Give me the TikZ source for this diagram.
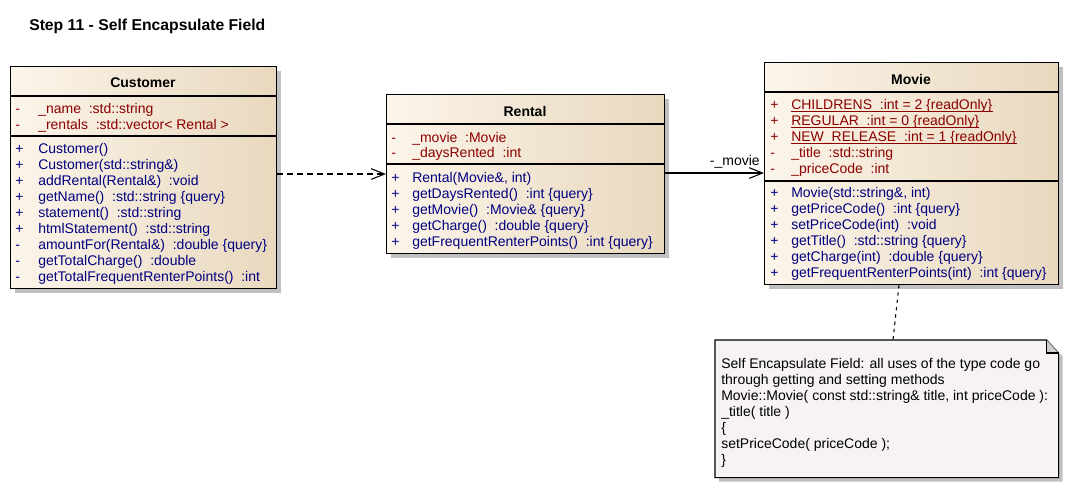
\documentclass[tikz,border=0pt]{standalone}
\usepackage{fontspec}
\setmainfont{Liberation Sans}
\usetikzlibrary{arrows.meta,calc,shadows}
\definecolor{attrc}{RGB}{140,0,0}
\definecolor{methc}{RGB}{0,0,128}
\definecolor{boxl}{RGB}{252,245,234}
\definecolor{boxr}{RGB}{232,216,190}
\definecolor{notefill}{RGB}{246,242,246}
\definecolor{shadowc}{RGB}{192,192,192}
\newcommand\umlfont{\fontsize{10.5}{12}\selectfont}
\tikzset{
  x=0.75pt, y=-0.75pt,
  cls/.style={draw=black, line width=0.8pt, left color=boxl, right color=boxr,
    inner sep=0pt, anchor=north west,
    drop shadow={shadow xshift=3pt, shadow yshift=-3pt, fill=shadowc, opacity=1}},
  sep/.style={line width=0.8pt},
  hdr/.style={anchor=base, inner sep=0pt, font=\fontsize{10.5}{12}\selectfont\bfseries},
  vis/.style={anchor=base west, inner sep=0pt, font=\umlfont},
  attr/.style={anchor=base west, inner sep=0pt, font=\umlfont, text=attrc},
  meth/.style={anchor=base west, inner sep=0pt, font=\umlfont, text=methc},
  notetxt/.style={anchor=base west, inner sep=0pt, font=\umlfont},
  uline/.style={draw=attrc, line width=0.6pt},
  opentip/.style={-{Straight Barb[length=10pt,width=8pt,line width=0.8pt]}},
  dep/.style={opentip, dashed, dash pattern=on 4.5pt off 3pt, line width=0.8pt},
  assoc/.style={opentip, line width=0.8pt},
  notelink/.style={dash pattern=on 2.5pt off 3pt, line width=0.8pt},
}
\begin{document}
\begin{tikzpicture}
\useasboundingbox[fill=white] (0,0) rectangle (1068,497);

% title
\node[anchor=base west, inner sep=0pt, font=\fontsize{11.8}{14}\selectfont\bfseries] (title) at (29,30) {Step 11 - Self Encapsulate Field};

% ---------------- Customer ----------------
\node[cls, minimum width=199.5pt, minimum height=166.5pt] (customer) at (10,66) {};
\draw[sep] (10,96) -- (276,96);
\draw[sep] (10,136) -- (276,136);
\node[hdr] (customerH) at (143,87) {Customer};
\node[vis,text=attrc] (cv1) at (15,113) {-};
\node[attr] (ca1) at (38,113) {\_name \ :std::string};
\node[vis,text=attrc] (cv2) at (15,129) {-};
\node[attr] (ca2) at (38,129) {\_rentals \ :std::vector< Rental >};
\node[vis,text=methc] (cw1) at (15,153) {+};
\node[meth] (cm1) at (38,153) {Customer()};
\node[vis,text=methc] (cw2) at (15,169) {+};
\node[meth] (cm2) at (38,169) {Customer(std::string\&)};
\node[vis,text=methc] (cw3) at (15,185) {+};
\node[meth] (cm3) at (38,185) {addRental(Rental\&) \ :void};
\node[vis,text=methc] (cw4) at (15,201) {+};
\node[meth] (cm4) at (38,201) {getName() \ :std::string \{query\}};
\node[vis,text=methc] (cw5) at (15,217) {+};
\node[meth] (cm5) at (38,217) {statement() \ :std::string};
\node[vis,text=methc] (cw6) at (15,233) {+};
\node[meth] (cm6) at (38,233) {htmlStatement() \ :std::string};
\node[vis,text=methc] (cw7) at (15,249) {-};
\node[meth] (cm7) at (38,249) {amountFor(Rental\&) \ :double \{query\}};
\node[vis,text=methc] (cw8) at (15,265) {-};
\node[meth] (cm8) at (38,265) {getTotalCharge() \ :double};
\node[vis,text=methc] (cw9) at (15,281) {-};
\node[meth] (cm9) at (38,281) {getTotalFrequentRenterPoints() \ :int};

% ---------------- Rental ----------------
\node[cls, minimum width=208.5pt, minimum height=119.25pt] (rental) at (386,94) {};
\draw[sep] (386,124) -- (664,124);
\draw[sep] (386,164) -- (664,164);
\node[hdr] (rentalH) at (525,116) {Rental};
\node[vis,text=attrc] (rv1) at (391,142) {-};
\node[attr] (ra1) at (412,142) {\_movie \ :Movie};
\node[vis,text=attrc] (rv2) at (391,157) {-};
\node[attr] (ra2) at (412,157) {\_daysRented \ :int};
\node[vis,text=methc] (rw1) at (391,182) {+};
\node[meth] (rm1) at (412,182) {Rental(Movie\&, int)};
\node[vis,text=methc] (rw2) at (391,198) {+};
\node[meth] (rm2) at (412,198) {getDaysRented() \ :int \{query\}};
\node[vis,text=methc] (rw3) at (391,214) {+};
\node[meth] (rm3) at (412,214) {getMovie() \ :Movie\& \{query\}};
\node[vis,text=methc] (rw4) at (391,230) {+};
\node[meth] (rm4) at (412,230) {getCharge() \ :double \{query\}};
\node[vis,text=methc] (rw5) at (391,246) {+};
\node[meth] (rm5) at (412,246) {getFrequentRenterPoints() \ :int \{query\}};

% ---------------- Movie ----------------
\node[cls, minimum width=220.5pt, minimum height=166.5pt] (movie) at (764,62) {};
\draw[sep] (764,92) -- (1058,92);
\draw[sep] (764,181) -- (1058,181);
\node[hdr] (movieH) at (911,84) {Movie};
\node[vis,text=attrc] (mv1) at (770,109) {+};
\node[attr] (ma1) at (791,109) {CHILDRENS \ :int = 2 \{readOnly\}};
\node[vis,text=attrc] (mv2) at (770,125) {+};
\node[attr] (ma2) at (791,125) {REGULAR \ :int = 0 \{readOnly\}};
\node[vis,text=attrc] (mv3) at (770,141) {+};
\node[attr] (ma3) at (791,141) {NEW\_RELEASE \ :int = 1 \{readOnly\}};
\draw[uline] ($(ma1.base west)+(0,2)$) -- ($(ma1.base east)+(0,2)$);
\draw[uline] ($(ma2.base west)+(0,2)$) -- ($(ma2.base east)+(0,2)$);
\draw[uline] ($(ma3.base west)+(0,2)$) -- ($(ma3.base east)+(0,2)$);
\node[vis,text=attrc] (mv4) at (770,157) {-};
\node[attr] (ma4) at (791,157) {\_title \ :std::string};
\node[vis,text=attrc] (mv5) at (770,173) {-};
\node[attr] (ma5) at (791,173) {\_priceCode \ :int};
\node[vis,text=methc] (mw1) at (770,197) {+};
\node[meth] (mm1) at (791,197) {Movie(std::string\&, int)};
\node[vis,text=methc] (mw2) at (770,213) {+};
\node[meth] (mm2) at (791,213) {getPriceCode() \ :int \{query\}};
\node[vis,text=methc] (mw3) at (770,229) {+};
\node[meth] (mm3) at (791,229) {setPriceCode(int) \ :void};
\node[vis,text=methc] (mw4) at (770,245) {+};
\node[meth] (mm4) at (791,245) {getTitle() \ :std::string \{query\}};
\node[vis,text=methc] (mw5) at (770,261) {+};
\node[meth] (mm5) at (791,261) {getCharge(int) \ :double \{query\}};
\node[vis,text=methc] (mw6) at (770,277) {+};
\node[meth] (mm6) at (791,277) {getFrequentRenterPoints(int) \ :int \{query\}};

% ---------------- Note ----------------
\node[inner sep=0pt, anchor=north west, minimum width=257.25pt, minimum height=102.75pt] (note) at (715,340) {};
\fill[shadowc] ($(note.north west)+(4,4)$) -- ($(note.north east)+(-12,4)$) -- ($(note.north east)+(4,16)$) -- ($(note.south east)+(4,4)$) -- ($(note.south west)+(4,4)$) -- cycle;
\draw[line width=0.8pt, fill=notefill] (note.north west) -- ($(note.north east)+(-12,0)$) -- ($(note.north east)+(0,13)$) -- (note.south east) -- (note.south west) -- cycle;
\filldraw[line width=0.8pt, fill=black!20] ($(note.north east)+(-12,0)$) -- ($(note.north east)+(-12,13)$) -- ($(note.north east)+(0,13)$);
\node[notetxt] (n1) at (721,368) {Self Encapsulate Field: all uses of the type code go};
\node[notetxt] (n2) at (721,384) {through getting and setting methods};
\node[notetxt] (n3) at (721,400) {Movie::Movie( const std::string\& title, int priceCode ):};
\node[notetxt] (n4) at (721,416) {\_title( title )};
\node[notetxt] (n5) at (721,432) {\{};
\node[notetxt] (n6) at (721,448) {setPriceCode( priceCode );};
\node[notetxt] (n7) at (721,464) {\}};

% ---------------- Connectors ----------------
\draw[dep] (customer.east |- 0,174) -- (rental.west |- 0,174);
\draw[assoc] (rental.east |- 0,173) -- (movie.west |- 0,173);
\node[anchor=base east, inner sep=0pt, font=\umlfont] (movielbl) at (760,165) {-\_movie};
\draw[notelink] (movie.south -| 899,0) -- (note.north -| 893,0);
\end{tikzpicture}
\end{document}
